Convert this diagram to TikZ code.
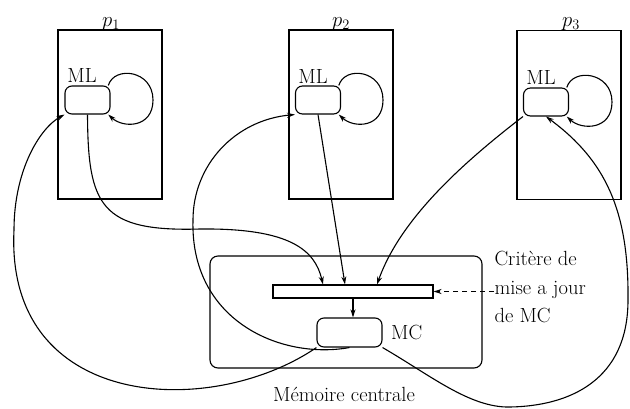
\documentclass[tikz,border=0pt]{standalone}
\usepackage{fontspec}
\usetikzlibrary{arrows.meta}

\begin{document}
\begin{tikzpicture}[x=1pt, y=-1pt, line width=1.1pt,
  proc/.style={draw, minimum width=104pt, minimum height=169pt, inner sep=0pt},
  memloc/.style={draw, rounded corners=7pt, minimum width=45pt, minimum height=28pt, inner sep=0pt},
  txt/.style={font=\fontsize{20.5}{24}\selectfont, inner sep=0pt},
  link/.style={-{Stealth[length=8pt, width=5pt]}}]
  \useasboundingbox (0,0) rectangle (630,408);

  % Processors
  \node[proc] (P1) at (110,114.5) {};
  \node[proc] (P2) at (341,114.5) {};
  \node[proc] (P3) at (569,115) {};
  \node[txt, anchor=base] (p1) at (111,26) {$p_1$};
  \node[txt, anchor=base] (p2) at (341,26) {$p_2$};
  \node[txt, anchor=base] (p3) at (571,26) {$p_3$};

  % Local memories
  \node[memloc] (ml1) at (87.5,100) {};
  \node[memloc] (ml2) at (318,100) {};
  \node[memloc] (ml3) at (546,102) {};
  \node[txt] (mltxt1) at (82,75) {ML};
  \node[txt] (mltxt2) at (313,76) {ML};
  \node[txt] (mltxt3) at (541,77) {ML};

  % Local loops
  \coordinate (r1) at (153,100);
  \coordinate (r2) at (383,100);
  \coordinate (r3) at (612,102);
  \draw[link] (ml1.35) .. controls +(6,-20) and +(0,-30) .. (r1) .. controls +(0,28) and +(15,14) .. (ml1.-35);
  \draw[link] (ml2.35) .. controls +(6,-20) and +(0,-30) .. (r2) .. controls +(0,28) and +(15,14) .. (ml2.-35);
  \draw[link] (ml3.35) .. controls +(6,-20) and +(0,-30) .. (r3) .. controls +(0,28) and +(15,14) .. (ml3.-35);

  % Central memory
  \node[draw, rounded corners=8pt, minimum width=272pt, minimum height=112pt] (mem) at (346,312) {};
  \node[draw, minimum width=160pt, minimum height=13pt, inner sep=0pt] (maj) at (353,291.5) {};
  \node[memloc, minimum width=65pt, minimum height=29pt] (mc) at (349.5,332.5) {};
  \node[txt, anchor=west] (mctxt) at ([xshift=8pt]mc.east) {MC};
  \node[txt] (memtxt) at (344,394) {Mémoire centrale};
  \node[txt, anchor=west, align=left, font=\fontsize{20.5}{28.5}\selectfont] (crit) at (494,287) {Critère de\\mise a jour\\de MC};
  \draw[link, dash pattern=on 5pt off 4pt] (maj.east -| crit.west) -- (maj.east);
  \draw[link] (maj.south) -- (maj.south |- mc.north);

  % Updates towards MC
  \draw[link] (ml1.south) .. controls (88,205) and (100,232) .. (200,229) .. controls (290,228) and (315,250) .. ([xshift=-30pt]maj.north);
  \draw[link] (ml2.south) -- ([xshift=-8pt]maj.north);
  \draw[link] (ml3.south west) .. controls (460,165) and (400,220) .. ([xshift=24pt]maj.north);

  % Copies from MC
  \draw[link] (mc.south west) .. controls (210,420) and (5,410) .. (14,230) .. controls (14,170) and (40,128) .. (ml1.south west);
  \draw[link] (mc.south) .. controls (280,360) and (190,320) .. (193,220) .. controls (193,165) and (235,120) .. (ml2.south west);
  \draw[link] (mc.south east) .. controls (430,375) and (470,408) .. (510,407) .. controls (570,406) and (628,380) .. (628,300) .. controls (629,210) and (605,160) .. (ml3.south);
\end{tikzpicture}
\end{document}
